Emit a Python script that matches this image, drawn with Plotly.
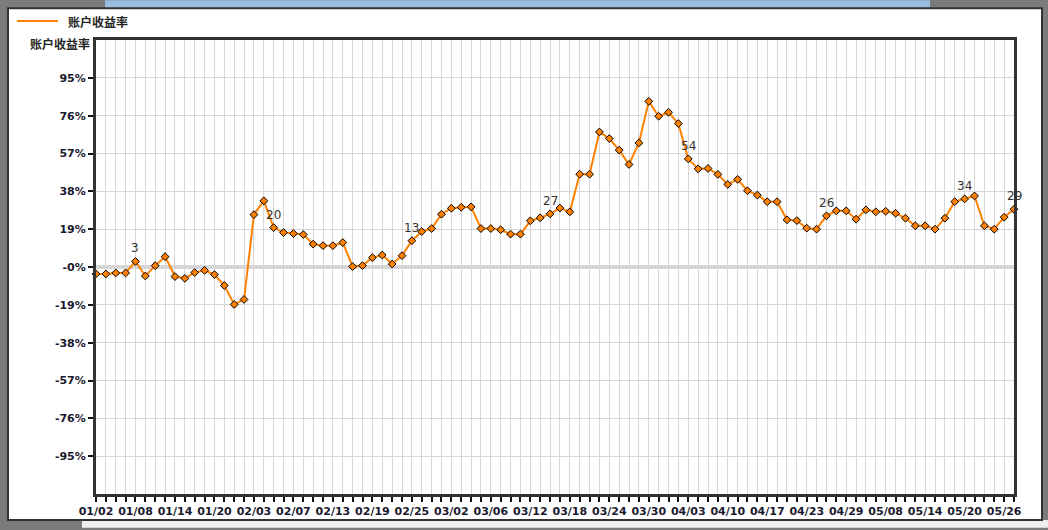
import plotly.graph_objects as go

# ---- data ----
series_name = "账户收益率"
values = [
    -3.5, -3.5, -3.0, -3.0, 2.8, -4.5, 0.7, 5.2, -4.8, -5.7,
    -2.8, -1.7, -3.8, -9.3, -18.8, -16.3, 26.3, 33.2, 19.8, 17.3,
    16.8, 16.3, 11.5, 10.7, 10.7, 12.3, 0.2, 0.7, 4.7, 6.0,
    1.5, 5.7, 13.2, 17.8, 19.3, 26.5, 29.5, 30.0, 30.2, 19.3,
    19.3, 18.7, 16.5, 16.5, 23.2, 24.7, 26.7, 29.6, 27.7, 46.6,
    46.6, 67.8, 64.5, 58.7, 51.5, 62.3, 83.2, 75.7, 77.7, 72.0,
    54.3, 49.3, 49.5, 46.5, 41.5, 44.0, 38.3, 36.1, 32.8, 32.8,
    23.7, 23.3, 19.5, 19.0, 25.7, 28.2, 28.2, 24.0, 28.7, 27.7,
    28.0, 27.0, 24.5, 20.7, 20.7, 19.0, 24.5, 32.8, 34.2, 35.7,
    20.7, 19.0, 25.0, 29.0,
]
date_labels = ["01/02", "01/08", "01/14", "01/20", "02/03", "02/07", "02/13", "02/19",
               "02/25", "03/02", "03/06", "03/12", "03/18", "03/24", "03/30", "04/03",
               "04/10", "04/17", "04/23", "04/29", "05/08", "05/14", "05/20", "05/26"]
label_every = 4
y_tick_vals = [95, 76, 57, 38, 19, 0, -19, -38, -57, -76, -95]
y_tick_text = ["95%", "76%", "57%", "38%", "19%", "-0%", "-19%", "-38%", "-57%", "-76%", "-95%"]
point_label_idx = [4, 18, 32, 46, 60, 74, 88, 93]

# ---- build ----
n = len(values)
xs = list(range(n))
tickvals = xs
ticktext = [date_labels[i // label_every] if i % label_every == 0 and i // label_every < len(date_labels) else ""
            for i in xs]

W, H = 1048, 530
L, R, T, B = 96, 1014, 40, 496
def px(x):
    return (x - L) / (R - L)
def py(y):
    return (B - y) / (B - T)

FONT = "DejaVu Sans, Verdana, Noto Sans CJK SC, sans-serif"
CJK = "Noto Sans CJK SC, DejaVu Sans, sans-serif"
ORANGE = "#FF8000"

fig = go.Figure()
fig.add_trace(go.Scatter(
    x=xs, y=values, mode="lines+markers", showlegend=False,
    line=dict(color=ORANGE, width=2),
    marker=dict(symbol="diamond", size=6, color=ORANGE, line=dict(color="#000000", width=1)),
    cliponaxis=False, hoverinfo="skip",
))

annotations = [
    dict(x=xs[i], y=values[i], xref="x", yref="y", text=str(round(values[i])),
         showarrow=False, yshift=13, xanchor="center", yanchor="middle",
         font=dict(family=FONT, size=12, color="#333333"))
    for i in point_label_idx
]
annotations.append(dict(text=series_name, xref="paper", yref="paper", x=px(60), y=py(44),
                        xanchor="center", yanchor="middle", showarrow=False,
                        font=dict(family=CJK, size=12, color="#222222", weight="bold")))
annotations.append(dict(text=series_name, xref="paper", yref="paper", x=px(66), y=py(21),
                        xanchor="left", yanchor="middle", showarrow=False,
                        font=dict(family=CJK, size=12, color="#222222", weight="bold")))

shapes = [
    dict(type="rect", xref="paper", yref="paper", layer="below",
         x0=px(105), x1=px(930), y0=py(0), y1=py(8),
         fillcolor="#99BCE0", line=dict(width=0)),
    dict(type="rect", xref="paper", yref="paper", layer="below",
         x0=px(82), x1=px(1048), y0=py(522), y1=py(530),
         fillcolor="#EDEDED", line=dict(width=0)),
    dict(type="rect", xref="paper", yref="paper", layer="below",
         x0=px(8), x1=px(1042), y0=py(8), y1=py(522),
         fillcolor="#FFFFFF", line=dict(color="#333333", width=2)),
    dict(type="line", xref="paper", yref="paper",
         x0=px(17), x1=px(58), y0=py(21), y1=py(21),
         line=dict(color=ORANGE, width=2)),
]

fig.update_layout(
    width=W, height=H,
    margin=dict(l=L, r=W - R, t=T, b=H - B, pad=0),
    paper_bgcolor="#7B7B7B", plot_bgcolor="#FFFFFF",
    font=dict(family=FONT, size=11, color="#1a1a2e"),
    shapes=shapes, annotations=annotations,
    showlegend=False,
)
fig.update_xaxes(
    range=[0, n - 1], tickmode="array", tickvals=tickvals, ticktext=ticktext, tickangle=0,
    showgrid=True, gridcolor="#D6D6D6", gridwidth=1,
    showline=True, linecolor="#333333", linewidth=3, mirror=True,
    ticks="outside", ticklen=5, tickwidth=2, tickcolor="#111111",
    tickfont=dict(family=FONT, size=11, color="#1a1a2e", weight="bold"),
    zeroline=False, fixedrange=True,
)
fig.update_yaxes(
    range=[-114, 114], tickmode="array", tickvals=y_tick_vals, ticktext=y_tick_text,
    showgrid=True, gridcolor="#D6D6D6", gridwidth=1,
    showline=True, linecolor="#333333", linewidth=3, mirror=True,
    ticks="outside", ticklen=5, tickwidth=2, tickcolor="#111111",
    tickfont=dict(family=FONT, size=11, color="#1a1a2e", weight="bold"),
    zeroline=True, zerolinecolor="#D6D6D6", zerolinewidth=4, fixedrange=True,
)

fig.write_html("out.html", config={"displayModeBar": False},
               post_script="document.body.style.margin='0';document.body.style.overflow='hidden';")
